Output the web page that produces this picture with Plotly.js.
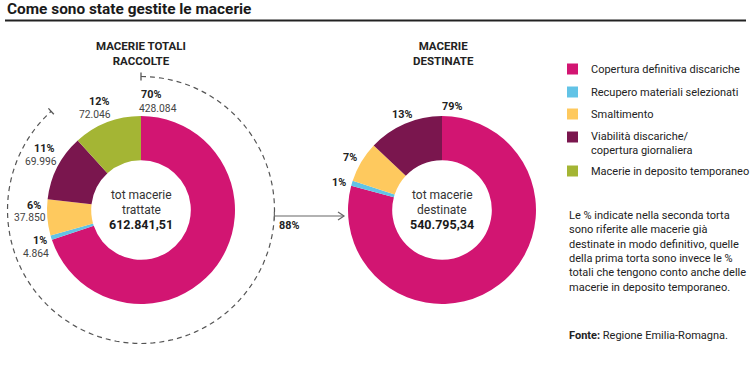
<!DOCTYPE html>
<html><head><meta charset="utf-8">
<script src="https://cdn.plot.ly/plotly-3.0.1.min.js"></script>
<style>html,body{margin:0;padding:0;background:#fff}#chart{width:750px;height:370px}</style>
</head><body><div id="chart"></div>
<script>
// ---- data ----
const categories = ['Copertura definitiva discariche', 'Recupero materiali selezionati', 'Smaltimento', 'Viabilità discariche/<br>copertura giornaliera', 'Macerie in deposito temporaneo'];
const valuesRaccolte = [428084, 4864, 37850, 69996, 72046];
const valuesDestinate = [428084, 4864, 37850, 69996];
const pctRaccolte = ['70%', '1%', '6%', '11%', '12%'];
const valueLabelsRaccolte = ['428.084', '4.864', '37.850', '69.996', '72.046'];
const pctDestinate = ['79%', '1%', '7%', '13%'];
const totals = [612841.51, 540795.34];
const totalLabels = ['612.841,51', '540.795,34'];
const pieTitles = ['MACERIE TOTALI<br>RACCOLTE', 'MACERIE<br>DESTINATE'];
const centerTexts = [['tot macerie', 'trattate'], ['tot macerie', 'destinate']];
const noteText = 'Le % indicate nella seconda torta<br>sono riferite alle macerie già<br>destinate in modo definitivo, quelle<br>della prima torta sono invece le %<br>totali che tengono conto anche delle<br>macerie in deposito temporaneo.';
const sourceText = '<b>Fonte:</b> Regione Emilia-Romagna.';
const chartTitle = 'Come sono state gestite le macerie';

// ---- style / layout ----
const colors = ['#D21572', '#62C3E6', '#FEC95E', '#7A164E', '#A4B534'];
const W = 750, H = 370;
const FONT = 'Roboto, "Liberation Sans", sans-serif';
const pies = [{cx: 141, cy: 210, r: 94}, {cx: 442, cy: 210, r: 94}];
function dom(p) {
  return {x: [(p.cx - p.r) / W, (p.cx + p.r) / W], y: [(H - p.cy - p.r) / H, (H - p.cy + p.r) / H]};
}
const pctPosRaccolte = [[151, 94], [39.5, 240], [34, 205], [44, 148], [98.5, 101]];
const valPosRaccolte = [[158, 108], [36, 253], [29.5, 217], [41, 161], [95, 114]];
const pctPosDestinate = [[452, 106], [339, 182], [350, 157], [401.5, 114]];

const traces = [
  {type: 'pie', labels: categories, values: valuesRaccolte, marker: {colors: colors, line: {width: 0}},
   hole: 0.53, sort: false, direction: 'clockwise', rotation: 0, textinfo: 'none', hoverinfo: 'none',
   domain: dom(pies[0]), showlegend: false},
  {type: 'pie', labels: categories.slice(0, 4), values: valuesDestinate, marker: {colors: colors.slice(0, 4), line: {width: 0}},
   hole: 0.53, sort: false, direction: 'clockwise', rotation: 0, textinfo: 'none', hoverinfo: 'none',
   domain: dom(pies[1]), showlegend: false}
];

const ann = [];
const shapes = [];
function A(x, y, text, opt) {
  ann.push(Object.assign({x: x, y: y, xref: 'x', yref: 'y', text: text, showarrow: false,
    xanchor: 'center', yanchor: 'middle', font: {family: FONT, size: 11, color: '#222'}}, opt || {}));
}
// title
A(5, 9, '<b>' + chartTitle + '</b>', {xanchor: 'left', font: {family: FONT, size: 15.4, color: '#1a1a1a'}});
shapes.push({type: 'line', xref: 'x', yref: 'y', x0: 5, x1: 746, y0: 20.5, y1: 20.5, line: {color: '#222', width: 2}});
// pie titles
A(141, 53, '<b>' + pieTitles[0] + '</b>', {font: {family: FONT, size: 11.5, color: '#222'}});
A(443, 53, '<b>' + pieTitles[1] + '</b>', {font: {family: FONT, size: 11.5, color: '#222'}});
// slice labels
pctRaccolte.forEach((t, i) => {
  A(pctPosRaccolte[i][0], pctPosRaccolte[i][1], '<b>' + t + '</b>', {font: {family: FONT, size: 10.8, color: '#222'}});
  A(valPosRaccolte[i][0], valPosRaccolte[i][1], valueLabelsRaccolte[i], {font: {family: FONT, size: 10.3, color: '#444'}});
});
pctDestinate.forEach((t, i) => {
  A(pctPosDestinate[i][0], pctPosDestinate[i][1], '<b>' + t + '</b>', {font: {family: FONT, size: 10.8, color: '#222'}});
});
// center texts
pies.forEach((p, k) => {
  A(p.cx, 195, centerTexts[k][0], {font: {family: FONT, size: 12, color: '#333'}});
  A(p.cx, 209.5, centerTexts[k][1], {font: {family: FONT, size: 12, color: '#333'}});
  A(p.cx, 224, '<b>' + totalLabels[k] + '</b>', {font: {family: FONT, size: 12.5, color: '#1a1a1a'}});
});
// dashed arc: share destined of total
const share = totals[1] / totals[0];
const R = 133.5, c = pies[0];
const end = share * 2 * Math.PI;
let path = '';
const N = 120;
for (let i = 0; i <= N; i++) {
  const a = end * i / N;
  const x = c.cx + R * Math.sin(a), y = c.cy - R * Math.cos(a);
  path += (i === 0 ? 'M' : 'L') + x.toFixed(2) + ',' + y.toFixed(2);
}
shapes.push({type: 'path', xref: 'x', yref: 'y', path: path, line: {color: '#555', width: 1.2, dash: '5px,4px'}});
[0, end].forEach(a => {
  const s = Math.sin(a), co = Math.cos(a);
  shapes.push({type: 'line', xref: 'x', yref: 'y', x0: c.cx + (R - 4) * s, y0: c.cy - (R - 4) * co,
    x1: c.cx + (R + 4) * s, y1: c.cy - (R + 4) * co, line: {color: '#555', width: 1.3}});
});
// arrow
const ay = 216, ax0 = c.cx + Math.sqrt(R * R - (ay - c.cy) * (ay - c.cy)), ax1 = pies[1].cx - pies[1].r - 4;
shapes.push({type: 'line', xref: 'x', yref: 'y', x0: ax0, x1: ax1, y0: ay, y1: ay, line: {color: '#666', width: 1.2}});
shapes.push({type: 'line', xref: 'x', yref: 'y', x0: ax0, x1: ax0, y0: ay - 4, y1: ay + 4, line: {color: '#666', width: 1.2}});
shapes.push({type: 'path', xref: 'x', yref: 'y', path: 'M' + (ax1 - 6) + ',' + (ay - 4) + 'L' + ax1 + ',' + ay + 'L' + (ax1 - 6) + ',' + (ay + 4),
  line: {color: '#666', width: 1.2}});
A(288.5, 225, '<b>' + Math.round(share * 100) + '%</b>', {font: {family: FONT, size: 10.8, color: '#222'}});
// legend
const legY = [69, 92, 114, 143, 171];
categories.forEach((cat, i) => {
  const sy = i === 3 ? 137 : legY[i];
  shapes.push({type: 'rect', xref: 'x', yref: 'y', x0: 567, x1: 578, y0: sy - 5.5, y1: sy + 5.5, fillcolor: colors[i], line: {width: 0}});
  A(589, legY[i], cat, {xanchor: 'left', align: 'left', font: {family: FONT, size: 11, color: '#222'}});
});
// note + source
A(567, 251, noteText, {xanchor: 'left', align: 'left', font: {family: FONT, size: 11, color: '#222'}});
A(567, 335, sourceText, {xanchor: 'left', align: 'left', font: {family: FONT, size: 11, color: '#222'}});

const layout = {
  width: W, height: H, margin: {l: 0, r: 0, t: 0, b: 0},
  paper_bgcolor: '#fff', plot_bgcolor: 'rgba(0,0,0,0)', showlegend: false,
  xaxis: {range: [0, W], visible: false, fixedrange: true},
  yaxis: {range: [H, 0], visible: false, fixedrange: true},
  annotations: ann, shapes: shapes
};
Plotly.newPlot('chart', traces, layout, {displayModeBar: false, staticPlot: true});
</script></body></html>
